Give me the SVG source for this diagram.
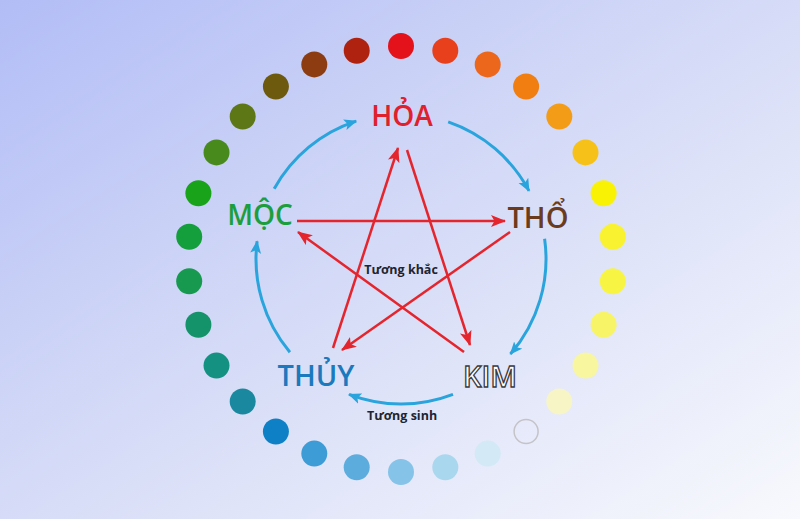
<svg xmlns="http://www.w3.org/2000/svg" width="800" height="519" viewBox="0 0 800 519">
<defs>
<linearGradient id="bg" x1="0" y1="0" x2="1" y2="1">
<stop offset="0" stop-color="#b2bdf6"/>
<stop offset="0.5" stop-color="#d6dcf7"/>
<stop offset="1" stop-color="#f8f9fd"/>
</linearGradient>
<marker id="ra" markerUnits="userSpaceOnUse" markerWidth="16" markerHeight="12" refX="14" refY="6" orient="auto">
<path d="M0,0 L15,6 L0,12 L3.5,6 Z" fill="#e5252d"/>
</marker>
<marker id="ba" markerUnits="userSpaceOnUse" markerWidth="14" markerHeight="12" refX="12" refY="6" orient="auto">
<path d="M0,0.5 L13,6 L0,11.5 L3,6 Z" fill="#2aa4dc"/>
</marker>
<style>
.lbl{font-family:"Open Sans","Noto Sans","DejaVu Sans",sans-serif;font-weight:600;text-anchor:middle}
.sm{font-family:"Open Sans","Noto Sans","DejaVu Sans",sans-serif;font-weight:700;font-size:12.5px;fill:#1e2430;text-anchor:middle}
.red{stroke:#e5252d;stroke-width:2.5;fill:none;marker-end:url(#ra)}
.blue{stroke:#2aa4dc;stroke-width:3;fill:none;marker-end:url(#ba)}
</style>
</defs>
<rect width="800" height="519" fill="url(#bg)"/>
<g id="dots">
<circle cx="401" cy="46" r="13" fill="#e4121b"/>
<circle cx="445.3" cy="50.7" r="13" fill="#e8401c"/>
<circle cx="487.7" cy="64.4" r="13" fill="#ec661c"/>
<circle cx="526.1" cy="86.5" r="13" fill="#f07e10"/>
<circle cx="559.3" cy="116.5" r="13" fill="#f39c18"/>
<circle cx="585.5" cy="152.4" r="13" fill="#f6c21a"/>
<circle cx="603.6" cy="193.2" r="13" fill="#f9f204"/>
<circle cx="612.8" cy="236.7" r="13" fill="#f8f230"/>
<circle cx="612.8" cy="281.3" r="13" fill="#f8f444"/>
<circle cx="603.6" cy="324.8" r="13" fill="#f8f468"/>
<circle cx="585.5" cy="365.6" r="13" fill="#f8f69e"/>
<circle cx="559.3" cy="401.5" r="13" fill="#f7f5c6"/>
<circle cx="526.1" cy="431.5" r="12" fill="none" stroke="#c4c4c8" stroke-width="1.5"/>
<circle cx="487.7" cy="453.6" r="13" fill="#d3e9f5"/>
<circle cx="445.3" cy="467.3" r="13" fill="#a9d7ee"/>
<circle cx="401" cy="472" r="13" fill="#86c3e8"/>
<circle cx="356.7" cy="467.3" r="13" fill="#5cadde"/>
<circle cx="314.3" cy="453.6" r="13" fill="#3d9bd6"/>
<circle cx="275.9" cy="431.5" r="13" fill="#0e80c6"/>
<circle cx="242.7" cy="401.5" r="13" fill="#1a889e"/>
<circle cx="216.5" cy="365.6" r="13" fill="#159182"/>
<circle cx="198.4" cy="324.8" r="13" fill="#14936a"/>
<circle cx="189.2" cy="281.3" r="13" fill="#179a50"/>
<circle cx="189.2" cy="236.7" r="13" fill="#149e3c"/>
<circle cx="198.4" cy="193.2" r="13" fill="#19a31a"/>
<circle cx="216.5" cy="152.4" r="13" fill="#488a1c"/>
<circle cx="242.7" cy="116.5" r="13" fill="#5d7616"/>
<circle cx="275.9" cy="86.5" r="13" fill="#6e5a0e"/>
<circle cx="314.3" cy="64.4" r="13" fill="#8c3c10"/>
<circle cx="356.7" cy="50.7" r="13" fill="#b02210"/>
</g>
<g id="connectors">
<path class="blue" d="M274.2,188.7 A145,145 0 0 1 356.2,121.1"/>
<path class="blue" d="M448.2,121.9 A145,145 0 0 1 529,190.9"/>
<path class="blue" d="M544.6,238.8 A145,145 0 0 1 510.4,354.1"/>
<path class="blue" d="M453,394.4 A145,145 0 0 1 349,394.4"/>
<path class="blue" d="M289.9,352.2 A145,145 0 0 1 257.1,241.3"/>
<path class="red" d="M297,221 L505,221"/>
<path class="red" d="M510,232 L342,350"/>
<path class="red" d="M333,348 L398,148"/>
<path class="red" d="M407,150 L470,345"/>
<path class="red" d="M464,352 L298,232"/>
</g>
<g id="hoa"><text class="lbl" x="402" y="126" font-size="28" fill="#e0202c">HỎA</text></g>
<g id="tho"><text class="lbl" x="538" y="228" font-size="29" fill="#6b3b1e">THỔ</text></g>
<g id="moc"><text class="lbl" x="260" y="225" font-size="28" fill="#1d9e3c">MỘC</text></g>
<g id="thuy"><text class="lbl" x="316" y="386" font-size="29" fill="#1b79be">THỦY</text></g>
<g id="kim"><text class="lbl" x="490" y="387" font-size="29" fill="#ffffff" stroke="#3a3a3e" stroke-width="1.3">KIM</text></g>
<g id="tuong-khac"><text class="sm" x="401" y="274">Tương khắc</text></g>
<g id="tuong-sinh"><text class="sm" x="402" y="420">Tương sinh</text></g>
</svg>
